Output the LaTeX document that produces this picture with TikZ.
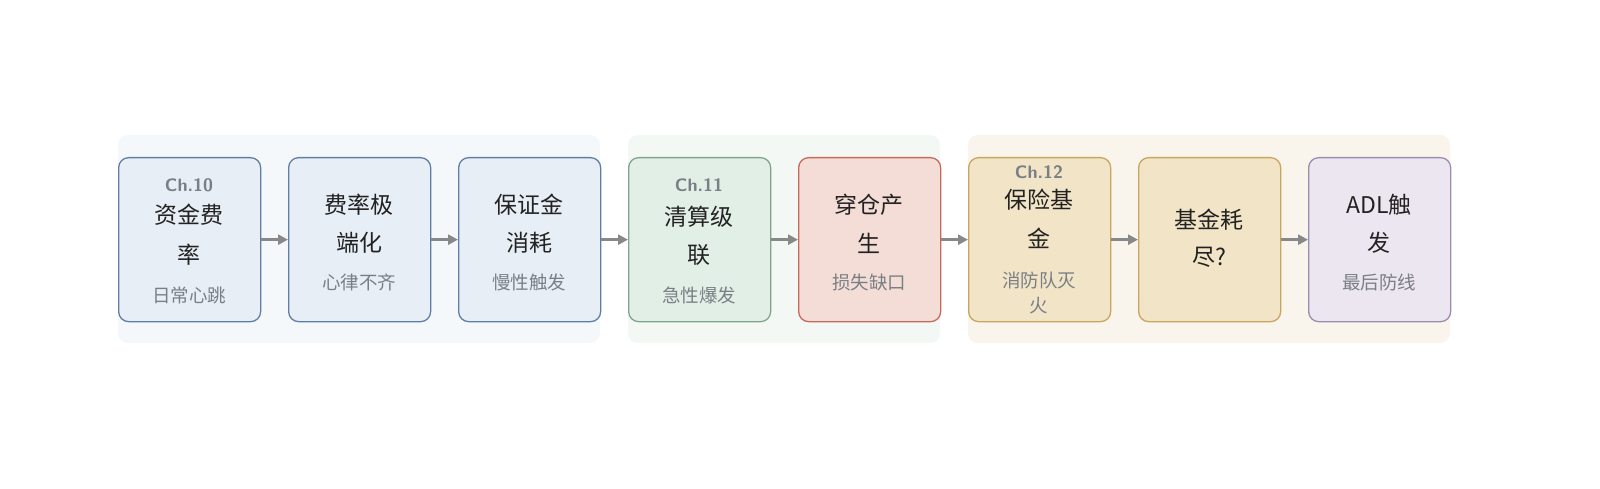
\documentclass[tikz,border=0pt]{standalone}
\usepackage{fontspec}
\setmainfont{Noto Sans CJK SC}
\usetikzlibrary{arrows.meta}
\definecolor{gb}{HTML}{F5F8FB}\definecolor{gg}{HTML}{F3F8F5}\definecolor{go}{HTML}{FAF5EC}
\definecolor{fb}{HTML}{E8EEF6}\definecolor{db}{HTML}{5F7DA6}
\definecolor{fg}{HTML}{E2EFE7}\definecolor{dg}{HTML}{80A58E}
\definecolor{fr}{HTML}{F4DDD6}\definecolor{dr}{HTML}{C8695B}
\definecolor{fy}{HTML}{F2E5C7}\definecolor{dy}{HTML}{C9A55F}
\definecolor{fp}{HTML}{ECE6F1}\definecolor{dp}{HTML}{9A8DB1}
\definecolor{tx}{HTML}{222222}\definecolor{sub}{HTML}{7A7F85}\definecolor{ar}{HTML}{888888}
\begin{document}
\begin{tikzpicture}[x=1pt,y=-1pt,
 grp/.style={rounded corners=10pt},
 box/.style={draw,line width=1.3pt,rounded corners=10pt,minimum width=142pt,minimum height=164pt,inner sep=0pt,anchor=north west},
 t/.style={text=tx,font=\fontsize{23}{26}\selectfont},
 s/.style={text=sub,font=\fontsize{18.5}{21}\selectfont},
 ch/.style={text=sub,font=\sffamily\bfseries\fontsize{18}{20}\selectfont},
 arr/.style={-{Triangle[length=10pt,width=10pt]},ar,line width=2.5pt}]
\useasboundingbox (0,0) rectangle (1600,489);
\fill[white] (0,0) rectangle (1600,489);
\fill[gb,grp] (118,135) rectangle (600,343);
\fill[gg,grp] (628,135) rectangle (940,343);
\fill[go,grp] (968,135) rectangle (1450,343);
\node[box,draw=db,fill=fb] (n1) at (118,157) {};
\node[box,draw=db,fill=fb] (n2) at (288,157) {};
\node[box,draw=db,fill=fb] (n3) at (458,157) {};
\node[box,draw=dg,fill=fg] (n4) at (628,157) {};
\node[box,draw=dr,fill=fr] (n5) at (798,157) {};
\node[box,draw=dy,fill=fy] (n6) at (968,157) {};
\node[box,draw=dy,fill=fy] (n7) at (1138,157) {};
\node[box,draw=dp,fill=fp] (n8) at (1308,157) {};
\foreach \a/\b in {n1/n2,n2/n3,n3/n4,n4/n5,n5/n6,n6/n7,n7/n8}
  \draw[arr] (\a.east) -- (\b.west);
\node[ch] (c1) at (189,185) {Ch.10};
\node[t] (a1) at (189,215) {资金费};
\node[t] (b1) at (189,255) {率};
\node[s] (s1) at (189,295) {日常心跳};
\node[t] (a2) at (359,205) {费率极};
\node[t] (b2) at (359,243) {端化};
\node[s] (s2) at (359,282) {心律不齐};
\node[t] (a3) at (529,205) {保证金};
\node[t] (b3) at (529,243) {消耗};
\node[s] (s3) at (529,282) {慢性触发};
\node[ch] (c4) at (699,185) {Ch.11};
\node[t] (a4) at (699,217) {清算级};
\node[t] (b4) at (699,255) {联};
\node[s] (s4) at (699,295) {急性爆发};
\node[t] (a5) at (869,205) {穿仓产};
\node[t] (b5) at (869,243) {生};
\node[s] (s5) at (869,282) {损失缺口};
\node[ch] (c6) at (1039,172) {Ch.12};
\node[t] (a6) at (1039,200) {保险基};
\node[t] (b6) at (1039,238) {金};
\node[s] (s6) at (1039,280) {消防队灭};
\node[s] (d6) at (1039,306) {火};
\node[t] (a7) at (1209,220) {基金耗};
\node[t] (b7) at (1209,257) {尽?};
\node[t] (a8) at (1379,205) {ADL触};
\node[t] (b8) at (1379,243) {发};
\node[s] (s8) at (1379,282) {最后防线};
\end{tikzpicture}
\end{document}
